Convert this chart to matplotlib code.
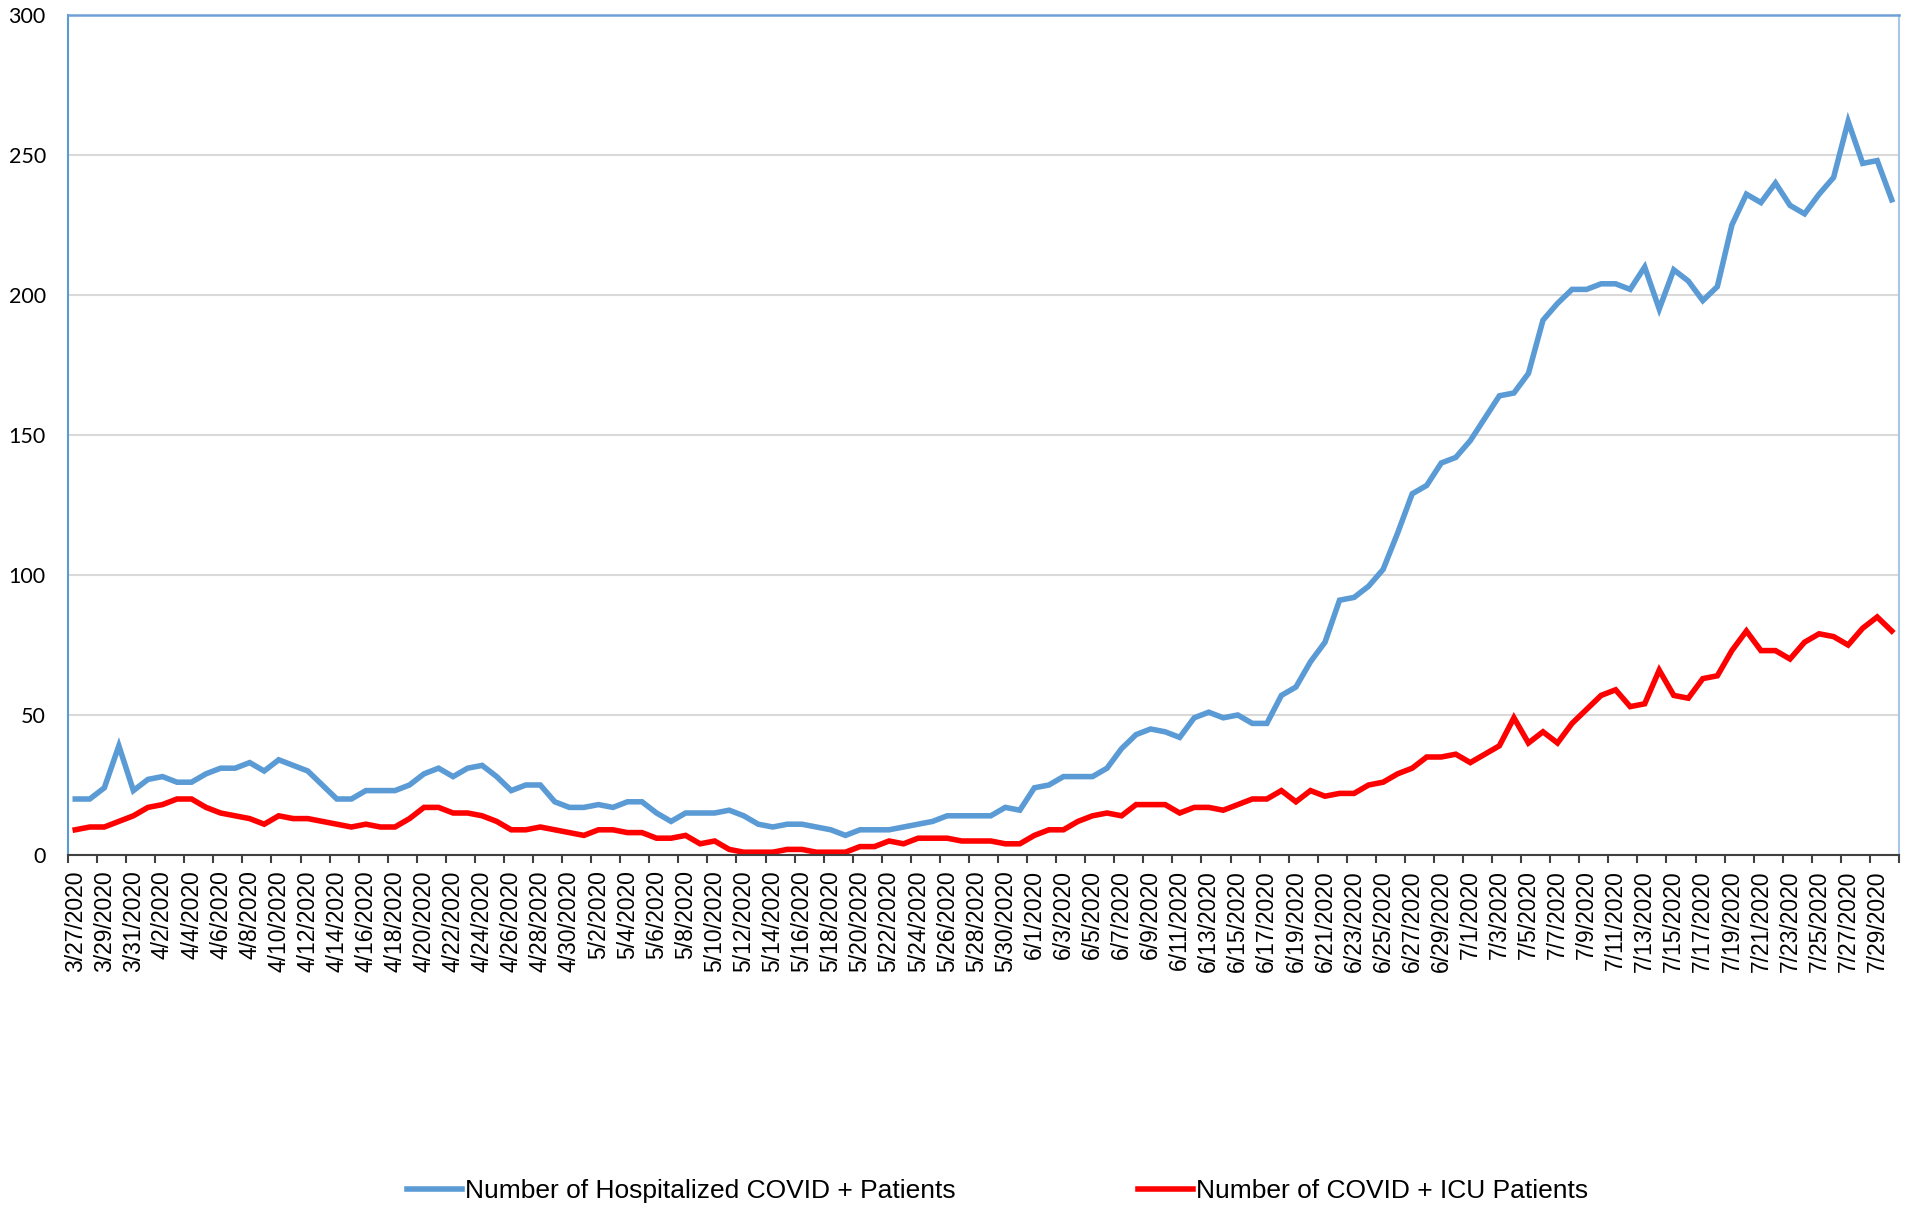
import numpy as np
import pandas as pd
import matplotlib
matplotlib.use('Agg')
import matplotlib.pyplot as plt
from matplotlib.ticker import FixedLocator

# daily categories 3/27/2020 .. 7/30/2020
start_date = '2020-03-27'
end_date = '2020-07-30'

hospitalized = [20, 20, 24, 39, 23, 27, 28, 26, 26, 29,
                31, 31, 33, 30, 34, 32, 30, 25, 20, 20,
                23, 23, 23, 25, 29, 31, 28, 31, 32, 28,
                23, 25, 25, 19, 17, 17, 18, 17, 19, 19,
                15, 12, 15, 15, 15, 16, 14, 11, 10, 11,
                11, 10, 9, 7, 9, 9, 9, 10, 11, 12,
                14, 14, 14, 14, 17, 16, 24, 25, 28, 28,
                28, 31, 38, 43, 45, 44, 42, 49, 51, 49,
                50, 47, 47, 57, 60, 69, 76, 91, 92, 96,
                102, 115, 129, 132, 140, 142, 148, 156, 164, 165,
                172, 191, 197, 202, 202, 204, 204, 202, 210, 195,
                209, 205, 198, 203, 225, 236, 233, 240, 232, 229,
                236, 242, 262, 247, 248, 234]

icu = [9, 10, 10, 12, 14, 17, 18, 20, 20, 17,
       15, 14, 13, 11, 14, 13, 13, 12, 11, 10,
       11, 10, 10, 13, 17, 17, 15, 15, 14, 12,
       9, 9, 10, 9, 8, 7, 9, 9, 8, 8,
       6, 6, 7, 4, 5, 2, 1, 1, 1, 2,
       2, 1, 1, 1, 3, 3, 5, 4, 6, 6,
       6, 5, 5, 5, 4, 4, 7, 9, 9, 12,
       14, 15, 14, 18, 18, 18, 15, 17, 17, 16,
       18, 20, 20, 23, 19, 23, 21, 22, 22, 25,
       26, 29, 31, 35, 35, 36, 33, 36, 39, 49,
       40, 44, 40, 47, 52, 57, 59, 53, 54, 66,
       57, 56, 63, 64, 73, 80, 73, 73, 70, 76,
       79, 78, 75, 81, 85, 80]

series_names = ['Number of Hospitalized COVID + Patients',
                'Number of COVID + ICU Patients']
y_ticks = [0, 50, 100, 150, 200, 250, 300]

dates = pd.date_range(start_date, end_date, freq='D')
date_labels = ['{}/{}/{}'.format(d.month, d.day, d.year) for d in dates]
x = np.arange(len(dates))

BLUE = '#5B9BD5'
RED = '#FF0000'

fig = plt.figure(figsize=(19.12, 12.23), dpi=100)
ax = fig.add_axes([68 / 1912, 1 - 855 / 1223, (1899 - 68) / 1912, (855 - 15) / 1223])

l1, = ax.plot(x, hospitalized, color=BLUE, linewidth=4.0, solid_joinstyle='miter')
l2, = ax.plot(x, icu, color=RED, linewidth=4.0, solid_joinstyle='miter')

ax.set_xlim(-0.5, len(dates) - 0.5)
ax.set_ylim(0, 300)
ax.set_yticks(y_ticks)
ax.grid(axis='y', color='#D9D9D9', linewidth=1.5)
ax.set_axisbelow(True)

# tick marks on category boundaries, labels on every other category
ax.xaxis.set_major_locator(FixedLocator(np.arange(-0.5, len(dates), 2)))
ax.xaxis.set_minor_locator(FixedLocator(x[::2]))
ax.xaxis.set_major_formatter(plt.NullFormatter())
ax.set_xticklabels([date_labels[i] for i in x[::2]], minor=True,
                   rotation=90, fontsize=16.5, fontfamily='Liberation Sans')
ax.tick_params(axis='x', which='major', length=6, width=1.5, color='#404040', direction='out')
ax.tick_params(axis='x', which='minor', length=0, pad=11)
ax.tick_params(axis='y', length=0, pad=16, labelsize=15.5)
for lab in ax.get_yticklabels():
    lab.set_fontfamily('Lato')

ax.spines['bottom'].set_color('#404040')
ax.spines['bottom'].set_linewidth(1.5)
ax.spines['left'].set_color('#5B9BD5')
ax.spines['left'].set_linewidth(1.5)
ax.spines['top'].set_color('#6FA0D8')
ax.spines['top'].set_linewidth(1.8)
ax.spines['right'].set_color('#A9C6E8')
ax.spines['right'].set_linewidth(1.5)

fig.legend([l1, l2], series_names, loc='center', bbox_to_anchor=(0.5217, 1 - 1191 / 1223),
           ncol=2, frameon=False, handlelength=2.1, handletextpad=0.1, columnspacing=6.9,
           prop={'family': 'Liberation Sans', 'size': 19})

fig.savefig('out.png', dpi=100, facecolor='white')
